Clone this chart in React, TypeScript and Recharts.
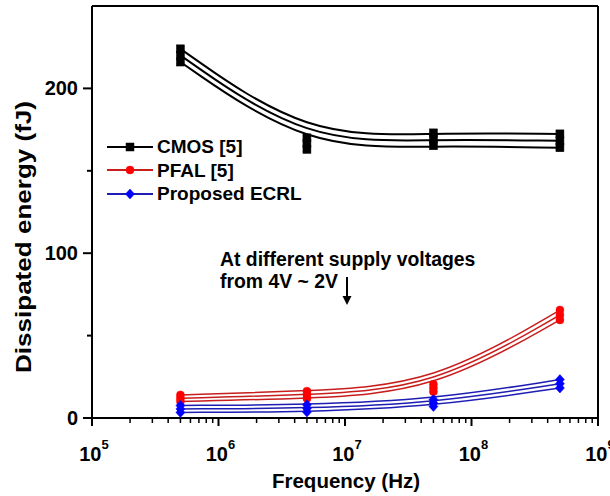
import React from 'react';
import {
  LineChart, Line, XAxis, YAxis, ReferenceLine, Legend, Customized,
} from 'recharts';

// ---- data ----
const frequencies = [5e5, 5e6, 5e7, 5e8];

const cmos4V = [224, 170, 173, 172.4];
const cmos3V = [220, 166.5, 169.2, 168.2];
const cmos2V = [216, 163, 165.2, 164];

const pfal4V = [14, 16.3, 20.5, 65.5];
const pfal3V = [12, 14, 18.2, 62.5];
const pfal2V = [10, 11.8, 16, 59.5];

const ecrl4V = [7.6, 8.0, 11.2, 23.3];
const ecrl3V = [5.5, 5.8, 9.1, 20.8];
const ecrl2V = [3.4, 3.6, 7.0, 18.2];

const xMajorTicks = [1e5, 1e6, 1e7, 1e8, 1e9];
const xMinorMultipliers = [2, 3, 4, 5, 6, 7, 8, 9];
const yTicks = [0, 50, 100, 150, 200];
const yLabelTicks = [0, 100, 200];

const legendItems = [
  { name: 'CMOS [5]', line: '#000000', marker: '#000000', shape: 'square' },
  { name: 'PFAL [5]', line: '#c81e1e', marker: '#ff0000', shape: 'circle' },
  { name: 'Proposed ECRL', line: '#1e1eb4', marker: '#0000ff', shape: 'diamond' },
];

const data = frequencies.map((f, i) => ({
  f,
  c1: cmos4V[i], c2: cmos3V[i], c3: cmos2V[i],
  p1: pfal4V[i], p2: pfal3V[i], p3: pfal2V[i],
  e1: ecrl4V[i], e2: ecrl3V[i], e3: ecrl2V[i],
}));

const xTicks = [
  ...xMajorTicks,
  ...xMajorTicks.slice(0, -1).flatMap((d) => xMinorMultipliers.map((m) => d * m)),
].sort((a, b) => a - b);

const FONT = '"Liberation Sans", Arial, Helvetica, sans-serif';

// ---- markers ----
const Marker = ({ shape, cx, cy, color }: any) => {
  if (cx == null || cy == null) return null;
  if (shape === 'square') {
    return <rect x={cx - 4} y={cy - 4} width={8} height={8} fill={color} stroke={color} strokeWidth={0.5} />;
  }
  if (shape === 'circle') {
    return <circle cx={cx} cy={cy} r={4} fill={color} stroke={color} strokeWidth={0.5} />;
  }
  return (
    <polygon
      points={`${cx},${cy - 5} ${cx + 4.5},${cy} ${cx},${cy + 5} ${cx - 4.5},${cy}`}
      fill={color}
      stroke={color}
      strokeWidth={0.5}
    />
  );
};

const makeDot = (shape: string, color: string) => (props: any) => (
  <Marker key={`${props.dataKey}-${props.index}`} shape={shape} cx={props.cx} cy={props.cy} color={color} />
);

// ---- ticks ----
const XTick = (props: any) => {
  const { x, y, payload } = props;
  const v = payload.value;
  const exp = Math.round(Math.log10(v));
  const major = Math.abs(v - Math.pow(10, exp)) < 1e-6 * v;
  return (
    <g>
      <line x1={x} x2={x} y1={y} y2={y + (major ? 8 : 5)} stroke="#000" strokeWidth={major ? 2 : 1.5} />
      {major && (
        <text x={x + 2} y={y + 43} textAnchor="middle" fontSize={20} fontWeight="bold" fill="#000" fontFamily={FONT}>
          10
          <tspan dy={-12} fontSize={13}>{exp}</tspan>
        </text>
      )}
    </g>
  );
};

const YTick = (props: any) => {
  const { x, y, payload } = props;
  const v = payload.value;
  const major = yLabelTicks.includes(v);
  return (
    <g>
      <line x1={x - (major ? 9 : 5)} x2={x} y1={y} y2={y} stroke="#000" strokeWidth={2} />
      {major && (
        <text x={x - 14} y={y + 7} textAnchor="end" fontSize={20} fontWeight="bold" fill="#000" fontFamily={FONT}>
          {v}
        </text>
      )}
    </g>
  );
};

// ---- legend ----
const LegendContent = () => (
  <div style={{ fontFamily: FONT }}>
    {legendItems.map((it) => (
      <div key={it.name} style={{ display: 'flex', alignItems: 'center', height: 23.5 }}>
        <svg width={46} height={12} style={{ marginRight: 4, flex: 'none' }}>
          <line x1={0} x2={46} y1={6} y2={6} stroke={it.line} strokeWidth={2} />
          <Marker shape={it.shape} cx={23} cy={6} color={it.marker} />
        </svg>
        <span style={{ fontSize: 19, fontWeight: 'bold', color: '#000', whiteSpace: 'nowrap', lineHeight: '23px' }}>{it.name}</span>
      </div>
    ))}
  </div>
);

// ---- extra text ----
const Annotations = () => (
  <g fontFamily={FONT} fontWeight="bold" fill="#000">
    <text x={220} y={266} fontSize={19.4}>At different supply voltages</text>
    <text x={220} y={288} fontSize={19.4}>from 4V ~ 2V</text>
    <line x1={347} x2={347} y1={277} y2={297} stroke="#000" strokeWidth={2} />
    <polygon points="342.5,296 351.5,296 347,305" fill="#000" />
    <text x={346} y={488} fontSize={20.5} textAnchor="middle">Frequency (Hz)</text>
    <text
      x={0}
      y={0}
      fontSize={22}
      textAnchor="middle"
      textLength={272}
      lengthAdjust="spacingAndGlyphs"
      transform="translate(31,237) rotate(-90)"
    >
      Dissipated energy (fJ)
    </text>
  </g>
);

export default function App() {
  return (
    <div style={{ position: 'absolute', left: 0, top: 0, background: '#fff' }}>
      <LineChart width={610} height={496} data={data} margin={{ top: 6, right: 12, bottom: 0, left: 0 }}>
        <XAxis
          dataKey="f"
          type="number"
          scale="log"
          domain={[1e5, 1e9]}
          allowDataOverflow
          ticks={xTicks}
          interval={0}
          tick={<XTick />}
          tickLine={false}
          tickSize={0}
          tickMargin={0}
          height={78}
          axisLine={{ stroke: '#000', strokeWidth: 2 }}
        />
        <YAxis
          type="number"
          domain={[0, 250]}
          ticks={yTicks}
          interval={0}
          tick={<YTick />}
          tickLine={false}
          tickSize={0}
          tickMargin={0}
          width={92}
          axisLine={{ stroke: '#000', strokeWidth: 2 }}
        />
        <ReferenceLine y={250} stroke="#000" strokeWidth={2} />
        <ReferenceLine x={1e9} stroke="#000" strokeWidth={2} />
        <Legend
          layout="vertical"
          align="center"
          verticalAlign="middle"
          content={<LegendContent />}
          wrapperStyle={{ left: 107, top: 135, width: 240, height: 72 }}
        />
        {['c1', 'c2', 'c3'].map((k) => (
          <Line key={k} dataKey={k} type="basis" stroke="#000" strokeWidth={2} dot={makeDot('square', '#000')} isAnimationActive={false} legendType="none" />
        ))}
        {['p1', 'p2', 'p3'].map((k) => (
          <Line key={k} dataKey={k} type="basis" stroke="#c81e1e" strokeWidth={1.5} dot={makeDot('circle', '#ff0000')} isAnimationActive={false} legendType="none" />
        ))}
        {['e1', 'e2', 'e3'].map((k) => (
          <Line key={k} dataKey={k} type="basis" stroke="#1e1eb4" strokeWidth={1.5} dot={makeDot('diamond', '#0000ff')} isAnimationActive={false} legendType="none" />
        ))}
        <Customized component={Annotations} />
      </LineChart>
    </div>
  );
}
